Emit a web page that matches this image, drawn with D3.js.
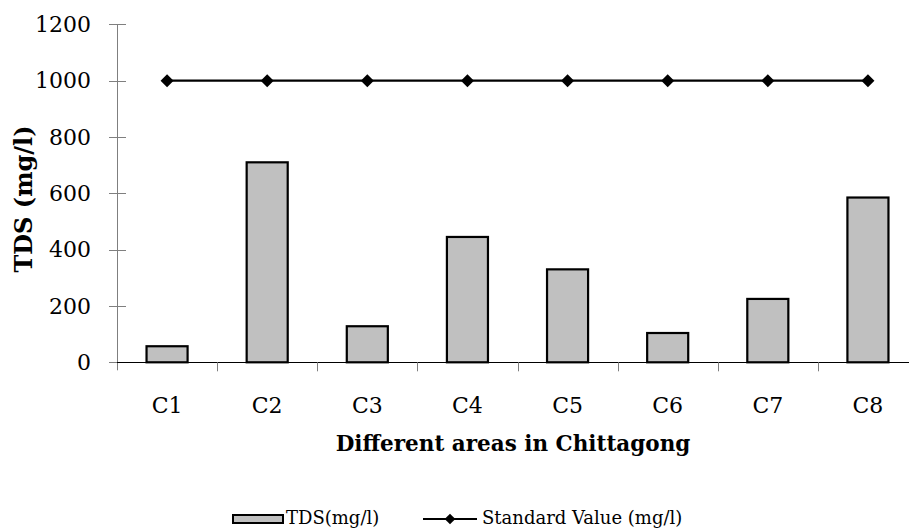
<!DOCTYPE html>
<html><head><meta charset="utf-8">
<script src="https://cdn.jsdelivr.net/npm/d3@7"></script>
<style>body{margin:0;background:#fff}svg{display:block}</style>
</head><body>
<script>
const categories = ["C1","C2","C3","C4","C5","C6","C7","C8"];
const tdsValues = [57, 710, 128, 445, 330, 104, 225, 585];
const standardValues = [1000, 1000, 1000, 1000, 1000, 1000, 1000, 1000];
const yTicks = [0, 200, 400, 600, 800, 1000, 1200];
const seriesNames = ["TDS(mg/l)", "Standard Value (mg/l)"];

const W = 909, H = 530;
const FONT = "'DejaVu Serif', 'Liberation Serif', serif";
const svg = d3.select("body").append("svg").attr("width", W).attr("height", H);

const x = d3.scaleBand().domain(categories).range([117, 918]).paddingInner(0).paddingOuter(0);
const y = d3.scaleLinear().domain([0, 1200]).range([362.3, 24.3]);
const barW = x.bandwidth() * 0.41;

// y axis
const yAxis = d3.axisLeft(y).tickValues(yTicks).tickFormat(d3.format("d")).tickSize(0).tickPadding(26);
const gy = svg.append("g").attr("transform", "translate(117,0)").call(yAxis);
gy.select(".domain").remove();
gy.selectAll("text").attr("font-family", FONT).attr("font-size", 22).attr("fill", "#000");
svg.append("line").attr("x1", 117.5).attr("x2", 117.5).attr("y1", y(1200)).attr("y2", y(0) + 8)
  .attr("stroke", "#7f7f7f").attr("stroke-width", 1);
svg.selectAll(".ytick").data(yTicks).enter().append("line")
  .attr("x1", 109).attr("x2", 126).attr("y1", d => Math.round(y(d)) + 0.5).attr("y2", d => Math.round(y(d)) + 0.5)
  .attr("stroke", "#7f7f7f").attr("stroke-width", 1);

// bars
svg.selectAll(".bar").data(categories).enter().append("rect")
  .attr("x", (d) => x(d) + (x.bandwidth() - barW) / 2)
  .attr("y", (d, i) => y(tdsValues[i]))
  .attr("width", barW)
  .attr("height", (d, i) => y(0) - y(tdsValues[i]))
  .attr("fill", "#c0c0c0").attr("stroke", "#000").attr("stroke-width", 2.2);

// x axis
svg.append("line").attr("x1", 117).attr("x2", 918).attr("y1", Math.round(y(0)) + 0.5).attr("y2", Math.round(y(0)) + 0.5)
  .attr("stroke", "#000").attr("stroke-width", 1.2);
const xBounds = categories.map(c => x(c)).concat([x(categories[categories.length-1]) + x.bandwidth()]);
svg.selectAll(".xtick").data(xBounds.slice(1)).enter().append("line")
  .attr("x1", d => Math.round(d) + 0.5).attr("x2", d => Math.round(d) + 0.5)
  .attr("y1", y(0)).attr("y2", y(0) + 9)
  .attr("stroke", "#7f7f7f").attr("stroke-width", 1);
const xAxis = d3.axisBottom(x).tickSize(0).tickPadding(0);
const gx = svg.append("g").attr("transform", "translate(0,413)").call(xAxis);
gx.select(".domain").remove();
gx.selectAll("text").attr("font-family", FONT).attr("font-size", 22).attr("fill", "#000").attr("y", 0).attr("dy", 0);

// standard line
const line = d3.line().x((d, i) => x(categories[i]) + x.bandwidth() / 2).y(d => y(d));
svg.append("path").datum(standardValues).attr("d", line).attr("fill", "none").attr("stroke", "#000").attr("stroke-width", 2.2);
const sym = d3.symbol().type(d3.symbolDiamond2).size(108);
svg.selectAll(".pt").data(standardValues).enter().append("path")
  .attr("d", sym)
  .attr("transform", (d, i) => `translate(${x(categories[i]) + x.bandwidth() / 2},${y(d)})`)
  .attr("fill", "#000");

// axis titles
svg.append("text").attr("transform", "translate(32,199) rotate(-90)")
  .attr("text-anchor", "middle").attr("font-family", FONT).attr("font-weight", "bold").attr("font-size", 24)
  .text("TDS (mg/l)");
svg.append("text").attr("x", 513).attr("y", 451)
  .attr("text-anchor", "middle").attr("font-family", FONT).attr("font-weight", "bold").attr("font-size", 21.5)
  .text("Different areas in Chittagong");

// legend
const lg = svg.append("g");
lg.append("rect").attr("x", 233).attr("y", 515).attr("width", 50).attr("height", 8)
  .attr("fill", "#c0c0c0").attr("stroke", "#000").attr("stroke-width", 2);
lg.append("text").attr("x", 286).attr("y", 524).attr("font-family", FONT).attr("font-size", 18).text(seriesNames[0]);
lg.append("line").attr("x1", 423).attr("x2", 477).attr("y1", 519).attr("y2", 519).attr("stroke", "#000").attr("stroke-width", 2);
lg.append("path").attr("d", d3.symbol().type(d3.symbolDiamond2).size(72)()).attr("transform", "translate(450,519)").attr("fill", "#000");
lg.append("text").attr("x", 482).attr("y", 524).attr("font-family", FONT).attr("font-size", 18).text(seriesNames[1]);
</script>
</body></html>
